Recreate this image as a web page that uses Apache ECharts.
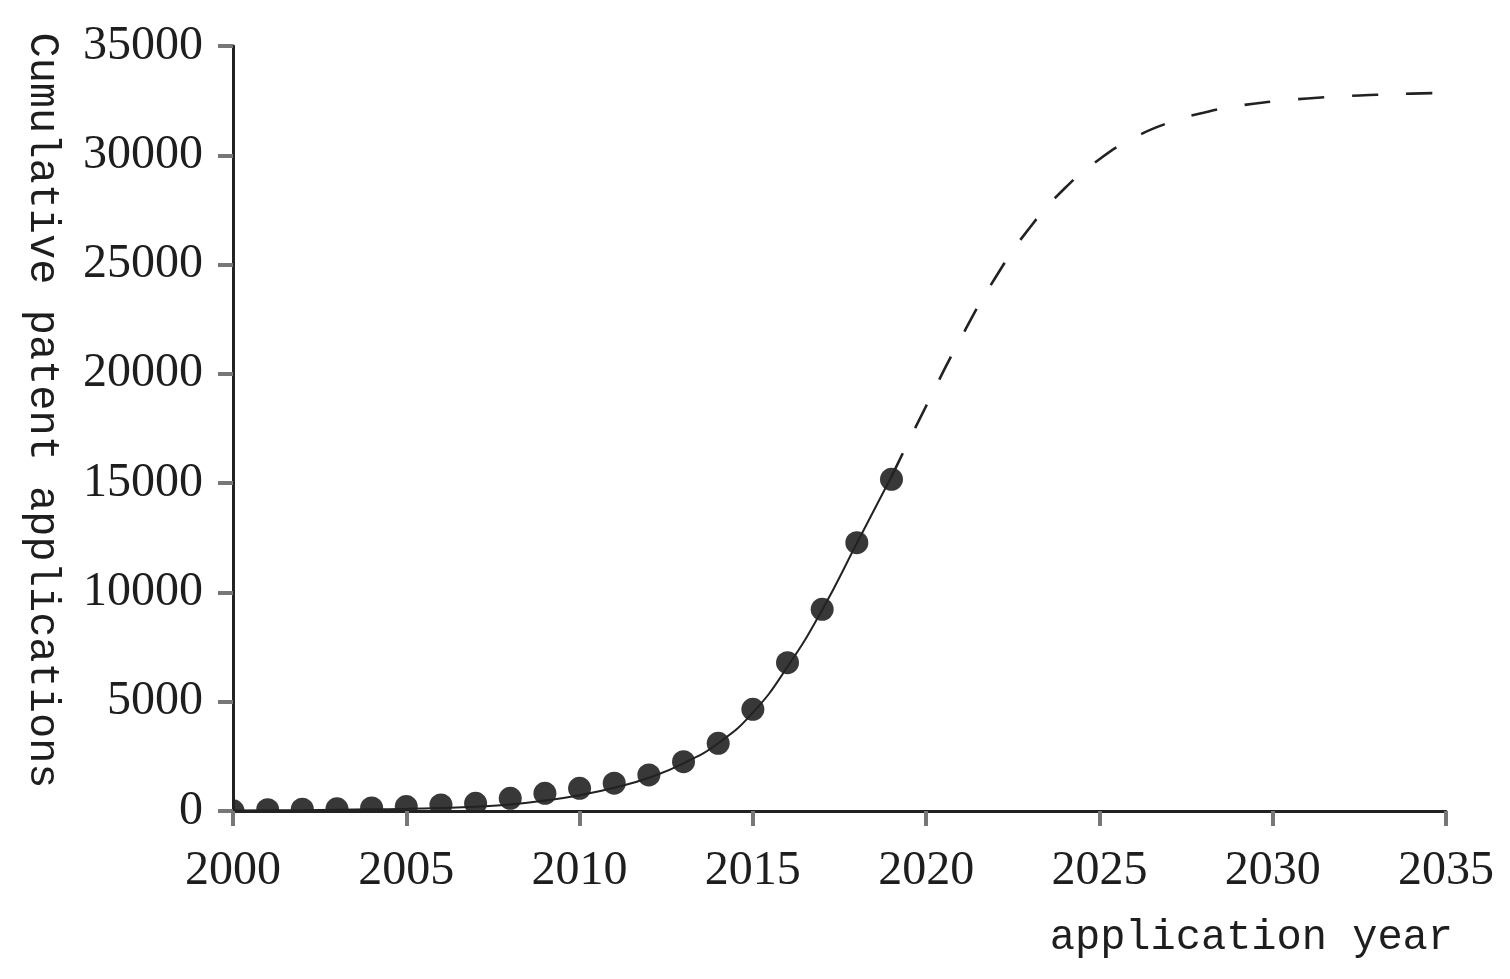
<!DOCTYPE html>
<html>
<head>
<meta charset="utf-8">
<script src="https://cdn.jsdelivr.net/npm/echarts@6/dist/echarts.min.js"></script>
<style>
html,body{margin:0;padding:0;background:#fff;}
#chart{width:1510px;height:979px;}
</style>
</head>
<body>
<div id="chart"></div>
<script>
// Observed cumulative applications (scatter)
const obsYears = [2000,2001,2002,2003,2004,2005,2006,2007,2008,2009,2010,2011,2012,2013,2014,2015,2016,2017,2018,2019];
const obsValues = [10,60,80,100,140,205,280,350,580,810,1040,1270,1650,2255,3095,4650,6785,9225,12275,15175];

// Fitted curve, solid part
const fitYears = [2000,2001,2002,2003,2004,2005,2006,2007,2008,2009,2010,2011,2012,2013,2014,2015,2016,2017,2018,2019];
const fitValues = [20,30,40,55,75,100,140,200,300,480,720,1060,1520,2180,3100,4500,6600,9200,12250,15300];

// Forecast part (dashed)
const predYears = [2019,2020,2021,2022,2023,2024,2025,2026,2027,2028,2029,2030,2031,2032,2033,2034,2035];
const predValues = [15300,18530,21630,24410,26710,28490,29820,30800,31490,31950,32260,32460,32600,32700,32770,32820,32855];

const xTicks = [2000,2005,2010,2015,2020,2025,2030,2035];
const yTicks = [0,5000,10000,15000,20000,25000,30000,35000];

const zip = (a,b) => a.map((v,i)=>[v,b[i]]);

const chart = echarts.init(document.getElementById('chart'), null, {renderer:'canvas'});
const labelFont = {fontFamily:'Liberation Serif', fontSize:48, color:'#1e1e1e'};
const nameFont = {fontFamily:'Liberation Mono', fontSize:42, color:'#1e1e1e'};

chart.setOption({
  animation:false,
  backgroundColor:'#fff',
  grid:{left:233, right:64, top:46, bottom:168, containLabel:false},
  xAxis:{
    type:'value', min:xTicks[0], max:xTicks[xTicks.length-1], interval:5, z:5,
    name:'application year', nameLocation:'end', nameGap:7,
    nameTextStyle:Object.assign({align:'right', verticalAlign:'top', padding:[106,0,0,0]}, nameFont),
    axisLine:{show:true, onZero:false, lineStyle:{color:'#222', width:3}},
    axisTick:{show:true, inside:false, length:15, lineStyle:{color:'#777', width:4}},
    axisLabel:Object.assign({margin:36, formatter:v=>String(v)}, labelFont),
    splitLine:{show:false}
  },
  yAxis:{
    type:'value', min:yTicks[0], max:yTicks[yTicks.length-1], interval:5000, z:5,
    name:'Cumulative patent applications', nameLocation:'middle', nameGap:170, nameRotate:-90,
    nameTextStyle:Object.assign({padding:[0,36,0,0]}, nameFont),
    axisLine:{show:true, lineStyle:{color:'#222', width:3}},
    axisTick:{show:true, inside:false, length:15, lineStyle:{color:'#777', width:4}},
    axisLabel:Object.assign({margin:30, formatter:v=>String(v)}, labelFont),
    splitLine:{show:false}
  },
  graphic:{elements:[
    {type:'rect', z:3, silent:true, shape:{x:0, y:811, width:1510, height:168}, style:{fill:'#fff'}},
    {type:'rect', z:3, silent:true, shape:{x:0, y:0, width:233, height:979}, style:{fill:'#fff'}}
  ]},
  series:[
    {type:'scatter', z:2, data:zip(obsYears, obsValues), symbol:'circle', symbolSize:23,
     itemStyle:{color:'#383838', opacity:1}},
    {type:'line', z:2.5, data:zip(fitYears, fitValues), smooth:true, showSymbol:false, symbol:'none',
     lineStyle:{color:'#222', width:2}},
    {type:'line', z:2.5, data:zip(predYears, predValues), smooth:true, showSymbol:false, symbol:'none',
     lineStyle:{color:'#222', width:2.6, type:[26,28]}}
  ]
});
</script>
</body>
</html>
